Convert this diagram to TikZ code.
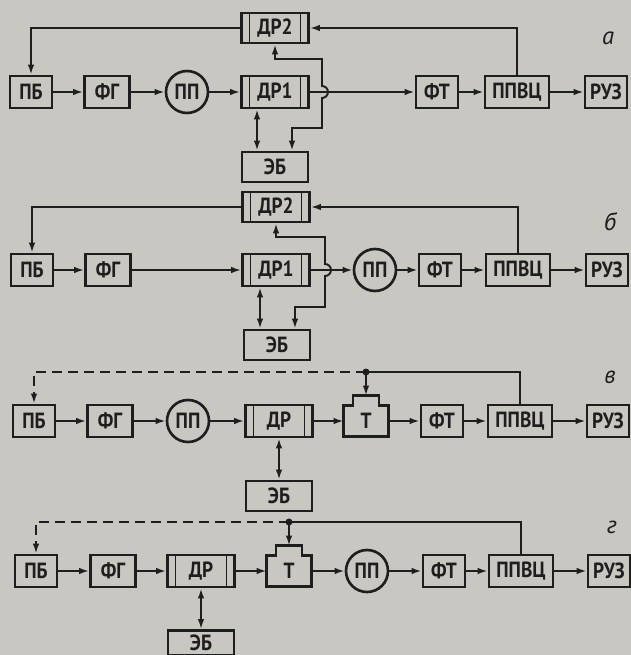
\documentclass[tikz,border=0pt]{standalone}
\usepackage{fontspec}
\setmainfont{PT Sans}
\newfontfamily\blockfont{PT Sans}[FakeStretch=0.88]
\usepackage{tikz}
\usetikzlibrary{arrows.meta,calc}
\definecolor{paper}{HTML}{C8C7C1}
\definecolor{ink}{HTML}{1E1E1E}

\tikzset{
  blk/.style={draw=ink, line width=1.5pt, minimum width=0.84cm, minimum height=0.64cm,
    inner sep=1pt, text=ink, font=\blockfont\bfseries\fontsize{12.5}{12.5}\selectfont},
  wideblk/.style={blk, minimum width=1.28cm},
  ebbox/.style={blk, minimum width=1.32cm, minimum height=0.6cm},
  drbox/.style={blk, minimum width=1.34cm,
    path picture={\draw[ink, line width=1.1pt]
      ([xshift=0.16cm]path picture bounding box.north west) -- ([xshift=0.16cm]path picture bounding box.south west)
      ([xshift=-0.16cm]path picture bounding box.north east) -- ([xshift=-0.16cm]path picture bounding box.south east);}},
  ppcirc/.style={blk, circle, minimum size=0.84cm, inner sep=0pt},
  teebox/.style={minimum width=0.88cm, minimum height=0.6cm, inner sep=1pt, text=ink,
    font=\blockfont\bfseries\fontsize{12.5}{12.5}\selectfont},
  wire/.style={draw=ink, line width=1.1pt},
  arr/.style={wire, -{Latex[length=2mm,width=1.3mm]}},
  dbl/.style={wire, {Latex[length=2mm,width=1.3mm]}-{Latex[length=2mm,width=1.3mm]}},
  dashwire/.style={arr, dash pattern=on 2mm off 1.2mm},
  lbl/.style={text=ink, font=\itshape\fontsize{14}{14}\selectfont},
}

% outline of the T block with its raised top
\newcommand{\drawtee}[1]{%
  \draw[ink, line width=1.5pt] (#1.south west) -- (#1.north west) -- ([xshift=-0.26cm]#1.north)
    -- ++(0cm,0.2cm) -- ++(0.52cm,0cm) -- ++(0cm,-0.2cm) -- (#1.north east) -- (#1.south east) -- cycle;
  \coordinate (#1-top) at ([yshift=0.2cm]#1.north);}

\begin{document}
\begin{tikzpicture}[x=0.02cm, y=-0.02cm]
  \fill[paper] (0,0) rectangle (631,655);
  \useasboundingbox (0,0) rectangle (631,655);

  % --- a ---
  \node[blk] (pba) at (31,92) {ПБ};
  \node[blk, minimum width=0.9cm] (fga) at (107,92) {ФГ};
  \node[ppcirc] (ppa) at (187,92) {ПП};
  \node[drbox] (dr1a) at (275,92) {ДР1};
  \node[drbox, minimum height=0.6cm] (dr2a) at (275,28) {ДР2};
  \node[ebbox] (eba) at (275,167) {ЭБ};
  \node[blk] (fta) at (437,92) {ФТ};
  \node[wideblk] (ppvca) at (517,92) {ППВЦ};
  \node[blk] (ruza) at (606,92) {РУЗ};
  \node[lbl] (la) at (608,38) {а};

  \draw[arr] (pba) -- (fga);
  \draw[arr] (fga) -- (ppa);
  \draw[arr] (ppa) -- (dr1a);
  \draw[arr] (dr1a) -- (fta);
  \draw[arr] (fta) -- (ppvca);
  \draw[arr] (ppvca) -- (ruza);
  \draw[arr] (ppvca.north) |- (dr2a.east);
  \draw[arr] (dr2a.west) -| (pba.north);
  \draw[dbl] ($(dr1a.south)+(-18,0)$) -- ($(eba.north)+(-18,0)$);
  \draw[dbl] (dr2a.south) |- (322,59) -- (322,86) arc[start angle=90, end angle=-90, radius=0.12cm]
    -- (322,128) -| ($(eba.north)+(17,0)$);

  % --- b ---
  \node[blk] (pbb) at (32,270) {ПБ};
  \node[blk, minimum width=0.9cm] (fgb) at (108,270) {ФГ};
  \node[drbox] (dr1b) at (276,270) {ДР1};
  \node[drbox, minimum height=0.6cm] (dr2b) at (276,207) {ДР2};
  \node[ebbox] (ebb) at (277,345) {ЭБ};
  \node[ppcirc] (ppb) at (375,270) {ПП};
  \node[blk] (ftb) at (440,270) {ФТ};
  \node[wideblk] (ppvcb) at (518,270) {ППВЦ};
  \node[blk] (ruzb) at (607,270) {РУЗ};
  \node[lbl] (lb) at (610,222) {б};

  \draw[arr] (pbb) -- (fgb);
  \draw[arr] (fgb) -- (dr1b);
  \draw[arr] (dr1b) -- (ppb);
  \draw[arr] (ppb) -- (ftb);
  \draw[arr] (ftb) -- (ppvcb);
  \draw[arr] (ppvcb) -- (ruzb);
  \draw[arr] (ppvcb.north) |- (dr2b.east);
  \draw[arr] (dr2b.west) -| (pbb.north);
  \draw[dbl] ($(dr1b.south)+(-16,0)$) -- ($(ebb.north)+(-17,0)$);
  \draw[dbl] (dr2b.south) |- (325,237) -- (325,264) arc[start angle=90, end angle=-90, radius=0.12cm]
    -- (325,307) -| ($(ebb.north)+(18,0)$);

  % --- v ---
  \node[blk] (pbv) at (34,421) {ПБ};
  \node[blk, minimum width=0.9cm] (fgv) at (110,421) {ФГ};
  \node[ppcirc] (ppv) at (188,421) {ПП};
  \node[drbox] (drv) at (279,421) {ДР};
  \node[ebbox] (ebv) at (279,496) {ЭБ};
  \node[teebox] (tv) at (366,421) {Т};
  \drawtee{tv}
  \node[blk] (ftv) at (442,421) {ФТ};
  \node[wideblk] (ppvcv) at (520,421) {ППВЦ};
  \node[blk] (ruzv) at (608,421) {РУЗ};
  \node[lbl] (lv) at (610,377) {в};
  \coordinate (dotv) at (366,372);

  \draw[arr] (pbv) -- (fgv);
  \draw[arr] (fgv) -- (ppv);
  \draw[arr] (ppv) -- (drv);
  \draw[arr] (drv) -- (tv);
  \draw[arr] (tv) -- (ftv);
  \draw[arr] (ftv) -- (ppvcv);
  \draw[arr] (ppvcv) -- (ruzv);
  \draw[dbl] (drv) -- (ebv);
  \draw[wire] (ppvcv.north) |- (dotv);
  \draw[dashwire] (dotv) -| (pbv.north);
  \draw[arr] (dotv) -- (tv-top);
  \fill[ink] (dotv) circle[radius=0.07cm];

  % --- g ---
  \node[blk] (pbg) at (36,571) {ПБ};
  \node[blk, minimum width=0.9cm] (fgg) at (113,571) {ФГ};
  \node[drbox] (drg) at (201,571) {ДР};
  \node[ebbox, minimum height=0.5cm] (ebg) at (201,643) {ЭБ};
  \node[teebox] (tg) at (289,571) {Т};
  \drawtee{tg}
  \node[ppcirc] (ppg) at (367,571) {ПП};
  \node[blk] (ftg) at (444,571) {ФТ};
  \node[wideblk] (ppvcg) at (521,571) {ППВЦ};
  \node[blk] (ruzg) at (609,571) {РУЗ};
  \node[lbl] (lg) at (612,527) {г};
  \coordinate (dotg) at (289,522);

  \draw[arr] (pbg) -- (fgg);
  \draw[arr] (fgg) -- (drg);
  \draw[arr] (drg) -- (tg);
  \draw[arr] (tg) -- (ppg);
  \draw[arr] (ppg) -- (ftg);
  \draw[arr] (ftg) -- (ppvcg);
  \draw[arr] (ppvcg) -- (ruzg);
  \draw[dbl] (drg) -- (ebg);
  \draw[wire] (ppvcg.north) |- (dotg);
  \draw[dashwire] (dotg) -| (pbg.north);
  \draw[arr] (dotg) -- (tg-top);
  \fill[ink] (dotg) circle[radius=0.07cm];
\end{tikzpicture}
\end{document}
